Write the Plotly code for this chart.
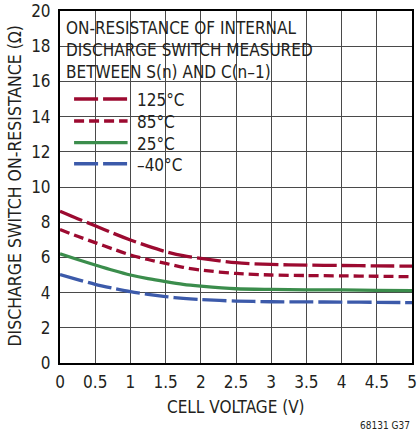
import plotly.graph_objects as go

# ---- data ----
cell_voltage = [0, 0.25, 0.5, 0.75, 1, 1.25, 1.5, 1.75, 2, 2.5, 3, 3.5, 4, 4.5, 5]
r_125 = [8.62, 8.2, 7.8, 7.38, 6.99, 6.64, 6.33, 6.1, 5.95, 5.7, 5.6, 5.56, 5.54, 5.52, 5.5]
r_85 = [7.58, 7.2, 6.84, 6.48, 6.14, 5.88, 5.66, 5.44, 5.28, 5.09, 5.0, 4.97, 4.95, 4.93, 4.9]
r_25 = [6.2, 5.88, 5.57, 5.27, 5.0, 4.79, 4.62, 4.47, 4.37, 4.22, 4.18, 4.16, 4.15, 4.13, 4.11]
r_m40 = [5.02, 4.74, 4.47, 4.25, 4.05, 3.9, 3.77, 3.67, 3.6, 3.52, 3.48, 3.47, 3.46, 3.45, 3.43]

series_names = ["125°C", "85°C", "25°C", "–40°C"]
series_values = [r_125, r_85, r_25, r_m40]

x_tickvals = [0, 0.5, 1, 1.5, 2, 2.5, 3, 3.5, 4, 4.5, 5]
x_ticktext = ["0", "0.5", "1", "1.5", "2", "2.5", "3", "3.5", "4", "4.5", "5"]
y_tickvals = [0, 2, 4, 6, 8, 10, 12, 14, 16, 18, 20]

title_text = "ON-RESISTANCE OF INTERNAL<br>DISCHARGE SWITCH MEASURED<br>BETWEEN S(n) AND C(n–1)"
x_title = "CELL VOLTAGE (V)"
y_title = "DISCHARGE SWITCH ON-RESISTANCE (Ω)"
code_text = "68131 G37"

# ---- styles ----
FONT = "DejaVu Sans Condensed, Liberation Sans Narrow, sans-serif"
RED = "#9c0a30"
GREEN = "#3b8d4c"
BLUE = "#3c5aaa"
colors = [RED, RED, GREEN, BLUE]
dashes = ["24px,5px", "10px,5px", "solid", "24px,5px"]
TEXT = "#231f20"
FS = 17

fig = go.Figure()
for name, vals, c, d in zip(series_names, series_values, colors, dashes):
    fig.add_trace(go.Scatter(
        x=cell_voltage, y=vals, mode="lines", name=name,
        line=dict(color=c, width=3.3, dash=d, shape="spline", smoothing=0.8),
        showlegend=False,
    ))

# white boxes covering grid behind title and legend
fig.add_shape(type="rect", xref="paper", yref="paper", x0=0, x1=0.739, y0=0.801, y1=1,
              fillcolor="white", line_width=0, layer="between")
fig.add_shape(type="rect", xref="paper", yref="paper", x0=0, x1=0.355, y0=0.504, y1=0.801,
              fillcolor="white", line_width=0, layer="between")

# title annotation
fig.add_annotation(xref="paper", yref="paper", x=0.012, y=0.986, xanchor="left", yanchor="top",
                   text=title_text, showarrow=False, align="left",
                   font=dict(family=FONT, size=FS, color=TEXT))

# manual legend
leg_y = [0.75, 0.6875, 0.626, 0.566]
for name, c, d, yy in zip(series_names, colors, dashes, leg_y):
    fig.add_shape(type="line", xref="paper", yref="paper", x0=0.040, x1=0.192, y0=yy, y1=yy,
                  line=dict(color=c, width=3.3, dash=d), layer="above")
    fig.add_annotation(xref="paper", yref="paper", x=0.213, y=yy - 0.004, xanchor="left", yanchor="middle",
                       text=name, showarrow=False, font=dict(family=FONT, size=FS, color=TEXT))

# axis titles as annotations (fixed placement)
fig.add_annotation(xref="paper", yref="paper", x=0.5, y=-0.126, xanchor="center", yanchor="middle",
                   text=x_title, showarrow=False, font=dict(family=FONT, size=FS, color=TEXT))
fig.add_annotation(xref="paper", yref="paper", x=-0.127, y=0.505, xanchor="center", yanchor="middle",
                   text=y_title, showarrow=False, textangle=-90,
                   font=dict(family=FONT, size=17.5, color=TEXT))

fig.add_annotation(xref="paper", yref="paper", x=1.0, y=-0.178, xanchor="right", yanchor="middle",
                   text=code_text, showarrow=False, font=dict(family=FONT, size=10, color=TEXT))

fig.update_xaxes(range=[0, 5], tickvals=x_tickvals, ticktext=x_ticktext,
                 showgrid=True, gridcolor="#4a4a4a", gridwidth=1,
                 showline=True, linecolor="black", linewidth=2, mirror=True,
                 ticks="", zeroline=False, automargin=False, ticklabelstandoff=3,
                 tickfont=dict(family=FONT, size=FS, color=TEXT))
fig.update_yaxes(range=[0, 20], tickvals=y_tickvals,
                 showgrid=True, gridcolor="#4a4a4a", gridwidth=1,
                 showline=True, linecolor="black", linewidth=2, mirror=True,
                 ticks="", zeroline=False, automargin=False, ticklabelstandoff=4,
                 tickfont=dict(family=FONT, size=FS, color=TEXT))

fig.update_layout(width=417, height=435, margin=dict(l=60, r=5, t=11, b=72),
                  paper_bgcolor="white", plot_bgcolor="white", showlegend=False)

fig.write_html("out.html", config={"displayModeBar": False},
               post_script="document.body.style.margin='0';document.body.style.overflow='hidden';")
